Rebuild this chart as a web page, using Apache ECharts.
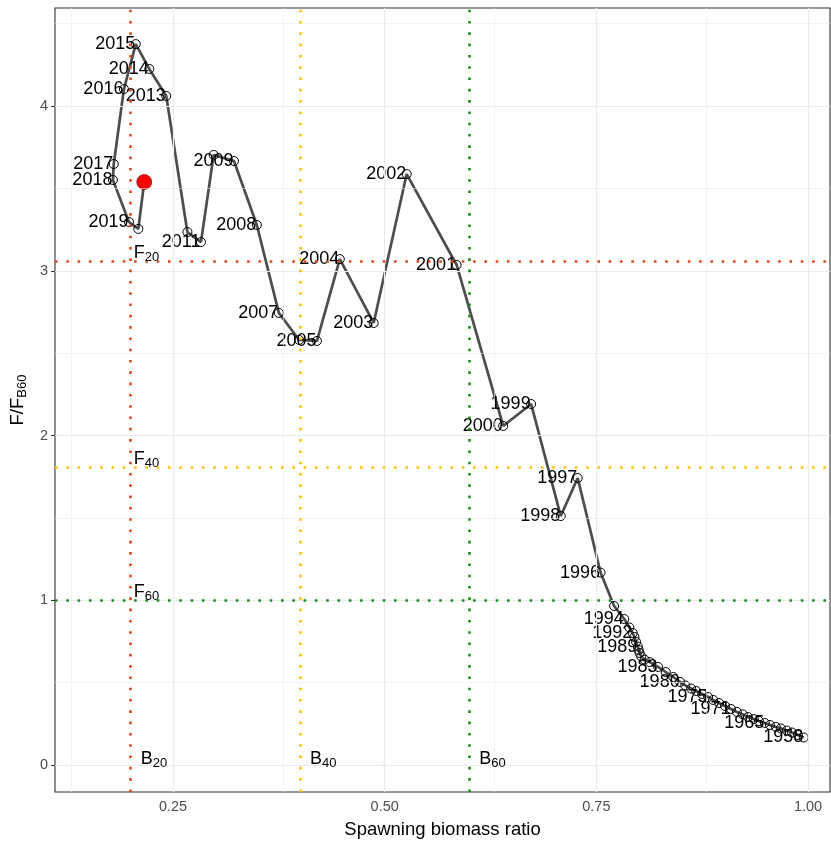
<!DOCTYPE html>
<html><head><meta charset="utf-8">
<script src="https://cdn.jsdelivr.net/npm/echarts@6/dist/echarts.min.js"></script>
<style>html,body{margin:0;padding:0;background:#fff}#c{width:831px;height:841px}</style>
</head><body><div id="c"></div>
<script>
const years = [1958,1959,1960,1961,1962,1963,1964,1965,1966,1967,1968,1969,1970,1971,1972,1973,1974,1975,1976,1977,1978,1979,1980,1981,1982,1983,1984,1985,1986,1987,1988,1989,1990,1991,1992,1993,1994,1995,1996,1997,1998,1999,2000,2001,2002,2003,2004,2005,2006,2007,2008,2009,2010,2011,2012,2013,2014,2015,2016,2017,2018,2019,2020];
const biomass = [0.995,0.988,0.981,0.975,0.968,0.962,0.955,0.949,0.942,0.936,0.929,0.923,0.916,0.909,0.902,0.895,0.888,0.882,0.875,0.868,0.862,0.855,0.849,0.841,0.832,0.823,0.813,0.807,0.803,0.801,0.800,0.799,0.797,0.795,0.793,0.789,0.783,0.771,0.755,0.728,0.708,0.673,0.640,0.585,0.526,0.487,0.447,0.420,0.399,0.375,0.349,0.322,0.298,0.283,0.267,0.242,0.222,0.206,0.192,0.180,0.179,0.198,0.209];
const fRatio = [0.167,0.182,0.197,0.209,0.222,0.231,0.243,0.255,0.267,0.279,0.291,0.307,0.322,0.340,0.358,0.376,0.395,0.413,0.431,0.449,0.464,0.483,0.504,0.534,0.564,0.595,0.625,0.640,0.659,0.680,0.698,0.719,0.747,0.777,0.801,0.835,0.886,0.965,1.168,1.742,1.511,2.191,2.058,3.035,3.587,2.683,3.071,2.574,2.580,2.744,3.278,3.666,3.703,3.174,3.235,4.061,4.225,4.376,4.103,3.648,3.551,3.296,3.254];
const currentPoint = [0.216, 3.539];
const labeledYears = [1958,1965,1971,1975,1980,1983,1989,1992,1994,1996,1997,1998,1999,2000,2001,2002,2003,2004,2005,2007,2008,2009,2011,2013,2014,2015,2016,2017,2018,2019];
const refLevels = ['20','40','60'];
const refB = [0.2, 0.4, 0.6];
const refF = [3.06, 1.81, 1.0];
const refColors = ['#E2461F', '#F9C20A', '#1E8A1E'];
const xTicks = [0.25, 0.5, 0.75, 1.0];
const xMinor = [0.125, 0.375, 0.625, 0.875];
const yTicks = [0, 1, 2, 3, 4];
const yMinor = [0.5, 1.5, 2.5, 3.5, 4.5];

const FONT = 'Liberation Sans, Arial, Helvetica, sans-serif';
const chart = echarts.init(document.getElementById('c'), null, {renderer: 'canvas'});

const mainData = years.map((y, i) => ({
  value: [biomass[i], fRatio[i]],
  name: String(y),
  label: {show: labeledYears.includes(y)}
}));
mainData.push({value: currentPoint, name: 'current', symbol: 'none', label: {show: false}});

const subRich = {
  a: {fontSize: 18, fontFamily: FONT, color: '#000', lineHeight: 20},
  b: {fontSize: 13, fontFamily: FONT, color: '#000', lineHeight: 20, padding: [9, 0, 0, 0]}
};

const fLabelData = refF.map((f, i) => ({
  value: [refB[0], f],
  label: {formatter: '{a|F}{b|' + refLevels[i] + '}'}
}));
const bLabelData = refB.map((b, i) => ({
  value: [b, 0],
  label: {formatter: '{a|B}{b|' + refLevels[i] + '}'}
}));

const option = {
  animation: false,
  backgroundColor: '#fff',
  grid: {left: 55, right: 1, top: 8, bottom: 49, containLabel: false, outerBoundsMode: 'none',
    show: true, borderColor: '#333', borderWidth: 1.1, backgroundColor: 'transparent'},
  xAxis: {
    type: 'value', min: 0.1106, max: 1.026,
    name: 'Spawning biomass ratio', nameLocation: 'middle', nameGap: 28,
    nameTextStyle: {fontSize: 18.5, fontFamily: FONT, color: '#000'},
    axisLine: {show: false},
    axisTick: {show: true, length: 4, lineStyle: {color: '#333', width: 1.1}, customValues: xTicks},
    axisLabel: {customValues: xTicks, formatter: v => v.toFixed(2), fontSize: 14.5, fontFamily: FONT, color: '#4D4D4D', margin: 7},
    splitLine: {show: false}
  },
  yAxis: {
    type: 'value', min: -0.164, max: 4.595,
    name: '{a|F/F}{b|B60}', nameLocation: 'middle', nameGap: 26, nameRotate: 90,
    nameTextStyle: {rich: {
      a: {fontSize: 18.5, fontFamily: FONT, color: '#000', lineHeight: 22},
      b: {fontSize: 13, fontFamily: FONT, color: '#000', lineHeight: 22, padding: [9, 0, 0, 0]}
    }},
    axisLine: {show: false},
    axisTick: {show: true, length: 4, lineStyle: {color: '#333', width: 1.1}, customValues: yTicks},
    axisLabel: {customValues: yTicks, fontSize: 14.5, fontFamily: FONT, color: '#4D4D4D', margin: 7},
    splitLine: {show: false}
  },
  series: [
    {
      type: 'line', data: [], z: 1, silent: true,
      markLine: {
        silent: true, symbol: ['none', 'none'], label: {show: false}, animation: false,
        lineStyle: {color: '#EBEBEB', width: 0.6, type: 'solid'},
        data: xMinor.map(v => ({xAxis: v})).concat(yMinor.map(v => ({yAxis: v})))
      }
    },
    {
      type: 'line', data: [], z: 1, silent: true,
      markLine: {
        silent: true, symbol: ['none', 'none'], label: {show: false}, animation: false,
        lineStyle: {color: '#EBEBEB', width: 1.2, type: 'solid'},
        data: xTicks.map(v => ({xAxis: v})).concat(yTicks.map(v => ({yAxis: v})))
      }
    },
    {
      type: 'line', data: [], z: 2, silent: true,
      markLine: {
        silent: true, symbol: ['none', 'none'], label: {show: false}, animation: false,
        lineStyle: {width: 2.6, type: [2.6, 8.7], cap: 'butt'},
        data: refB.map((b, i) => ({xAxis: b, lineStyle: {color: refColors[i]}}))
          .concat(refF.map((f, i) => ({yAxis: f, lineStyle: {color: refColors[i]}})))
      }
    },
    {
      type: 'line', z: 3, data: mainData,
      showAllSymbol: true, symbol: 'circle', symbolSize: 9,
      lineStyle: {color: '#4D4D4D', width: 2.7},
      itemStyle: {color: 'rgba(0,0,0,0)', borderColor: '#000', borderWidth: 1},
      label: {show: true, position: 'left', distance: -4.5, formatter: p => p.name,
        fontSize: 18, fontFamily: FONT, color: '#000'},
      emphasis: {disabled: true}
    },
    {
      type: 'scatter', z: 4, data: [currentPoint], symbolSize: 15,
      itemStyle: {color: '#FF0000', borderColor: '#5a0000', borderWidth: 0.6, opacity: 1},
      emphasis: {disabled: true}
    },
    {
      type: 'scatter', z: 5, data: fLabelData, symbolSize: 0,
      itemStyle: {opacity: 1},
      label: {show: true, position: 'right', distance: 3, offset: [0, -8], rich: subRich},
      emphasis: {disabled: true}
    },
    {
      type: 'scatter', z: 5, data: bLabelData, symbolSize: 0,
      itemStyle: {opacity: 1},
      label: {show: true, position: 'right', distance: 10, offset: [0, -6], rich: subRich},
      emphasis: {disabled: true}
    }
  ]
};
chart.setOption(option);
</script>
</body></html>
